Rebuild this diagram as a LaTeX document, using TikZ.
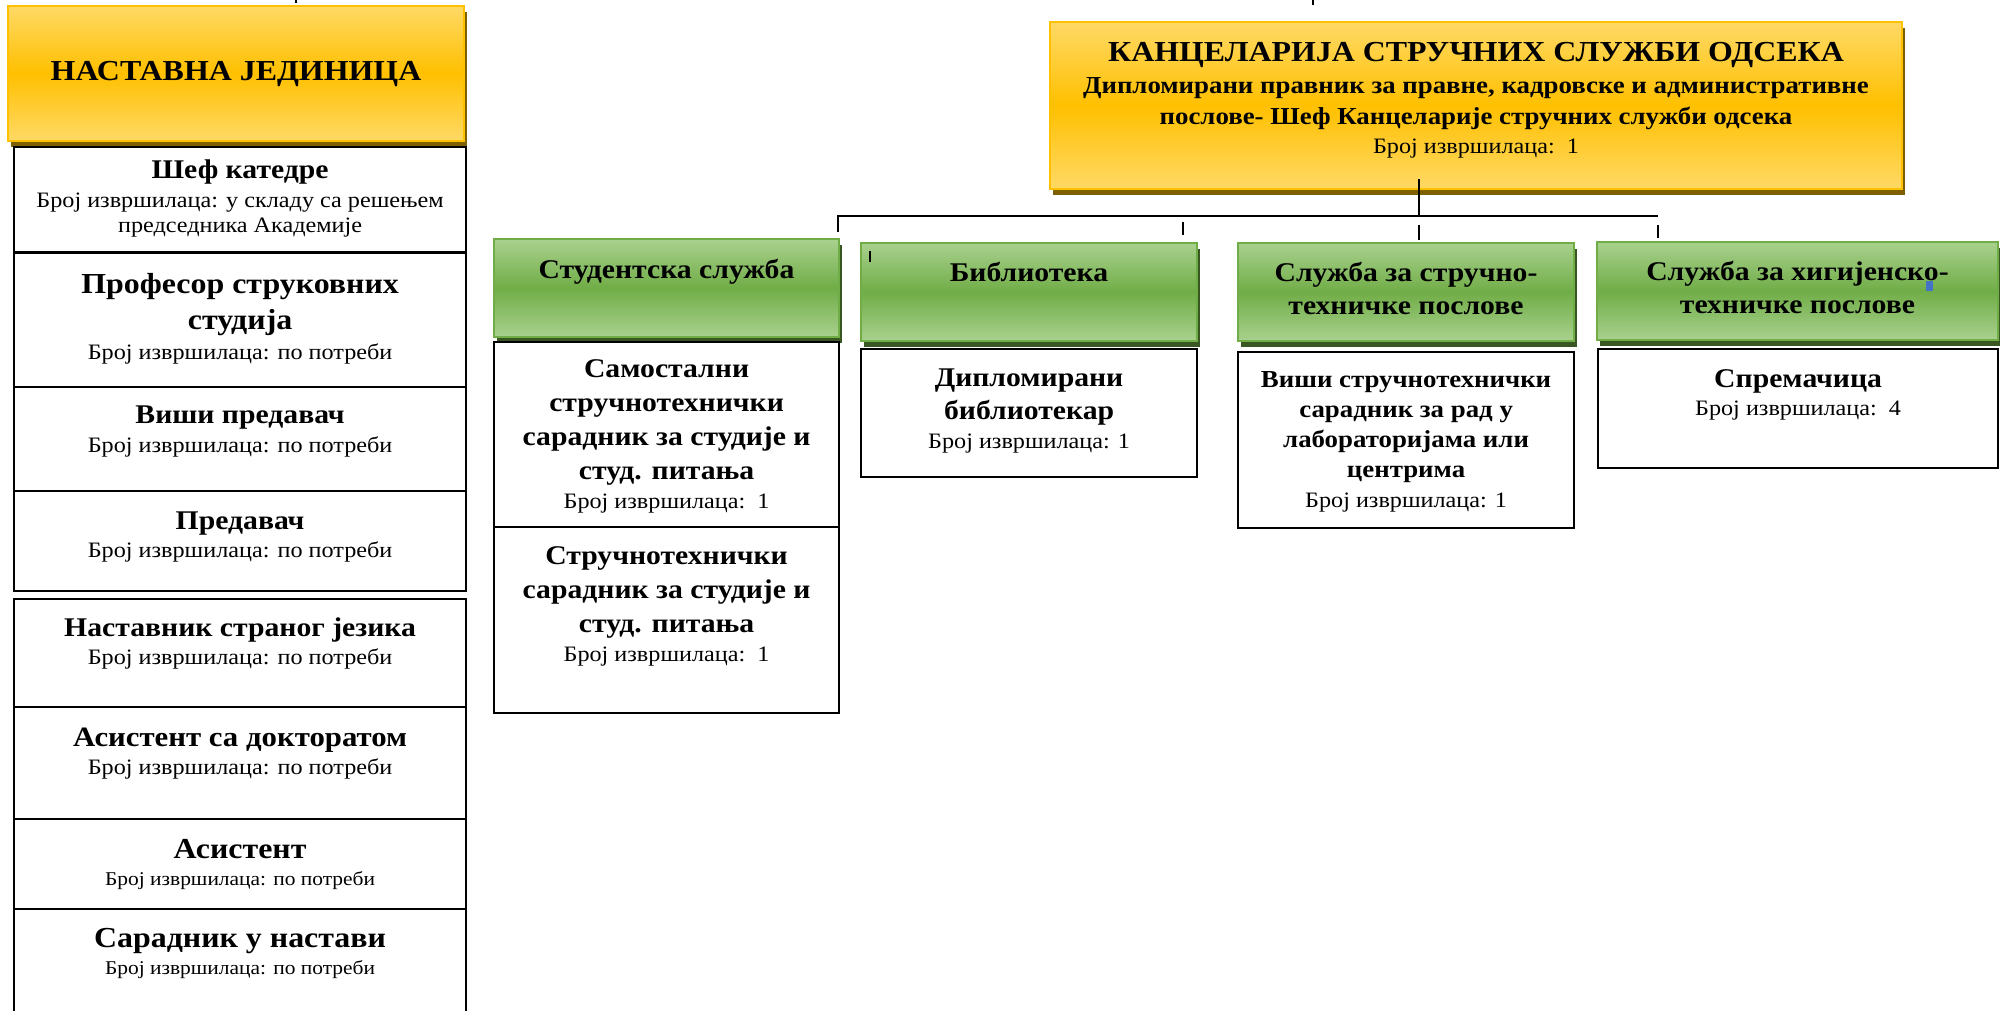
\documentclass[tikz,border=0pt]{standalone}
\usepackage{fontspec}
\setmainfont[FakeStretch=1.1]{Liberation Serif}
\usetikzlibrary{calc,shadows}
\definecolor{goldtop}{HTML}{FFD966}
\definecolor{goldmid}{HTML}{FFC000}
\definecolor{goldshade}{HTML}{7F6000}
\definecolor{greentop}{HTML}{A9D18E}
\definecolor{greenmid}{HTML}{70AD47}
\definecolor{greenshade}{HTML}{385723}
\definecolor{handle}{HTML}{4472C4}
\tikzset{
	UnitBox/.style={draw=goldmid, line width=2pt, top color=goldtop, bottom color=goldtop, middle color=goldmid,
		drop shadow={shadow xshift=3pt, shadow yshift=-6pt, fill=goldshade, opacity=1}, anchor=north west, inner sep=0pt},
	ServBox/.style={draw=greenmid, line width=2pt, top color=greentop, bottom color=greentop, middle color=greenmid,
		drop shadow={shadow xshift=3pt, shadow yshift=-6pt, fill=greenshade, opacity=1}, anchor=north west, inner sep=0pt},
	PostBox/.style={draw=black, line width=2.2pt, fill=white, anchor=north west, inner sep=0pt},
	PostText/.style={anchor=north, align=center, inner sep=0pt, font=\fontsize{22}{28}\selectfont},
	Link/.style={line width=1.6pt}
}
\newcommand{\hd}[2][27]{{\fontsize{#1}{#1}\selectfont\bfseries #2}}

\begin{document}
\begin{tikzpicture}[x=1pt, y=-1pt]
	\useasboundingbox (0,0) rectangle (2000,1010);

	% Left column: teaching unit
	\node[UnitBox, minimum width=456, minimum height=135, font=\fontsize{29}{36}\selectfont\bfseries] (unit) at (7,5) {НАСТАВНА ЈЕДИНИЦА};
	\foreach \nm/\top/\bot in {sef/146/251, prof/252/386, visi/386/490, pred/490/590,
		nast/598/706, asdr/706/818, asis/818/908, sara/908/1020}
		\node[PostBox, minimum width=452, minimum height={\bot-\top}] (\nm) at (13,\top) {};

	\node[PostText] (sef-t) at ($(sef.north)+(0,14)$) {\hd{Шеф катедре}\\[1pt] Број извршилаца: у складу са решењем\\[-3pt] председника Академије};
	\node[PostText] (prof-t) at ($(prof.north)+(0,21)$) {\hd[29]{Професор струковних}\\[8pt] \hd[29]{студија}\\[2pt] Број извршилаца: по потреби};
	\node[PostText] (visi-t) at ($(visi.north)+(0,20)$) {\hd{Виши предавач}\\[1pt] Број извршилаца: по потреби};
	\node[PostText] (pred-t) at ($(pred.north)+(0,22)$) {\hd{Предавач}\\ Број извршилаца: по потреби};
	\node[PostText] (nast-t) at ($(nast.north)+(0,20)$) {\hd{Наставник страног језика}\\ Број извршилаца: по потреби};
	\node[PostText] (asdr-t) at ($(asdr.north)+(0,22)$) {\hd[28]{Асистент са докторатом}\\ Број извршилаца: по потреби};
	\node[PostText, font=\fontsize{19.5}{27}\selectfont] (asis-t) at ($(asis.north)+(0,21)$) {\hd[29]{Асистент}\\ Број извршилаца: по потреби};
	\node[PostText, font=\fontsize{19.5}{27}\selectfont] (sara-t) at ($(sara.north)+(0,20)$) {\hd[29]{Сарадник у настави}\\ Број извршилаца: по потреби};

	% Office of professional services
	\node[UnitBox, minimum width=852, minimum height=167] (kanc) at (1049,21) {};
	\node[PostText, font=\fontsize{22}{27}\selectfont] (kanc-t) at ($(kanc.north)+(0,21)$)
		{\hd[29]{КАНЦЕЛАРИЈА СТРУЧНИХ СЛУЖБИ ОДСЕКА}\\[5pt]
		\hd[24.4]{Дипломирани правник за правне, кадровске и административне}\\[4pt]
		\hd[24.4]{послове- Шеф Канцеларије стручних служби одсека}\\[2pt]
		Број извршилаца:\ \ 1};

	\foreach \nm/\x/\y/\w in {stud/493/238/345, bibl/860/242/336, tehn/1237/242/336, hig/1596/241/401}
		\node[ServBox, minimum width=\w, minimum height=98] (\nm) at (\x,\y) {};
	\node[PostText, font=\fontsize{27}{33}\selectfont\bfseries] (stud-t) at ($(stud.north)+(0,21)$) {Студентска служба};
	\node[PostText, font=\fontsize{27}{33}\selectfont\bfseries] (bibl-t) at ($(bibl.north)+(0,20)$) {Библиотека};
	\node[PostText, font=\fontsize{27}{33}\selectfont\bfseries] (tehn-t) at ($(tehn.north)+(0,20)$) {Служба за стручно-\\техничке послове};
	\node[PostText, font=\fontsize{27}{33}\selectfont\bfseries] (hig-t) at ($(hig.north)+(0,20)$) {Служба за хигијенско-\\техничке послове};

	\node[PostBox, minimum width=345, minimum height=185] (samo) at (493,341) {};
	\node[PostBox, minimum width=345, minimum height=186] (stru) at (493,526) {};
	\node[PostBox, minimum width=336, minimum height=128] (dipl) at (860,348) {};
	\node[PostBox, minimum width=336, minimum height=176] (vsst) at (1237,351) {};
	\node[PostBox, minimum width=400, minimum height=119] (sprem) at (1597,348) {};

	\node[PostText, font=\fontsize{22}{34}\selectfont] (samo-t) at ($(samo.north)+(0,18)$)
		{\hd{Самостални}\\ \hd{стручнотехнички}\\ \hd{сарадник за студије и}\\ \hd{студ. питања}\\[-5pt] Број извршилаца:\ \ 1};
	\node[PostText, font=\fontsize{22}{34}\selectfont] (stru-t) at ($(stru.north)+(0,20)$)
		{\hd{Стручнотехнички}\\ \hd{сарадник за студије и}\\ \hd{студ. питања}\\[-5pt] Број извршилаца:\ \ 1};
	\node[PostText, font=\fontsize{22}{33}\selectfont] (dipl-t) at ($(dipl.north)+(0,21)$)
		{\hd{Дипломирани}\\ \hd{библиотекар}\\[-4pt] Број извршилаца: 1};
	\node[PostText, font=\fontsize{22}{30}\selectfont] (vsst-t) at ($(vsst.north)+(0,20)$)
		{\hd[24.4]{Виши стручнотехнички}\\ \hd[24.4]{сарадник за рад у}\\ \hd[24.4]{лабораторијама или}\\ \hd[24.4]{центрима}\\ Број извршилаца: 1};
	\node[PostText] (sprem-t) at ($(sprem.north)+(0,21)$) {\hd{Спремачица}\\ Број извршилаца:\ \ 4};

	% Connectors
	\coordinate (bus-l) at (838,216);
	\coordinate (bus-c) at (1419,216);
	\coordinate (bus-r) at (1658,216);
	\draw[Link] (kanc.south -| bus-c) ++(0,-11) -- (bus-c);
	\draw[Link] ($(bus-l)+(0,16)$) -- (bus-l) -- (bus-r);
	\foreach \x/\a/\b in {1183/222/235, 1419/225/240, 1658/225/238}
		\draw[Link] (\x,\a) -- (\x,\b);
	\draw[Link] (296,0) -- (296,3);
	\draw[Link] (1313,0) -- (1313,5);

	% stray marks
	\draw[line width=1.2pt] (870,251) -- (870,262);
	\fill[handle] (1926,281) rectangle (1933,291);
\end{tikzpicture}
\end{document}
